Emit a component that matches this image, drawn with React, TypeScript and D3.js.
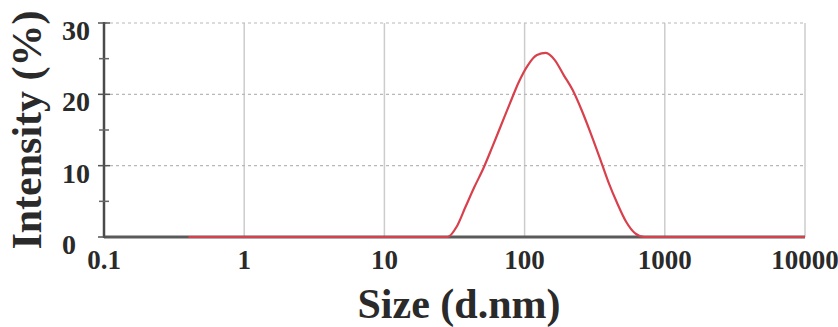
import React from 'react'
import * as d3 from 'd3'

const [W, H] = [838, 327]
const margin = { left: 104, right: 33, top: 23, bottom: 90 }

// size bins (d.nm) and intensity (%)
const sizes = [0.4, 0.4632, 0.5365, 0.6213, 0.7195, 0.8332, 0.9649, 1.117, 1.294, 1.499, 1.736, 2.01, 2.328,
  2.696, 3.122, 3.615, 4.187, 4.849, 5.615, 6.503, 7.531, 8.721, 10.1, 11.7, 13.54, 15.69, 18.17, 21.04, 24.36,
  28.21, 32.67, 37.84, 43.82, 50.75, 58.77, 68.06, 78.82, 91.28, 105.7, 122.4, 141.8, 164.2, 190.1, 220.2, 255.0,
  295.3, 342.0, 396.1, 458.7, 531.2, 615.1, 712.4, 825.0, 955.4, 1106, 1281, 1484, 1718, 1990, 2305, 2669, 3091,
  3580, 4145, 4801, 5560, 6439, 7456, 8635, 10000]
const intensity = [0, 0, 0, 0, 0, 0, 0, 0, 0, 0, 0, 0, 0,
  0, 0, 0, 0, 0, 0, 0, 0, 0, 0, 0, 0, 0, 0, 0, 0,
  0, 1.4, 4.2, 7.0, 9.6, 12.6, 15.7, 18.8, 21.8, 24.1, 25.5, 25.8, 24.8, 22.7, 20.6, 17.8,
  14.6, 11.2, 7.7, 4.7, 2.1, 0.5, 0, 0, 0, 0, 0, 0, 0, 0, 0, 0, 0,
  0, 0, 0, 0, 0, 0, 0, 0]

const xTicks = [0.1, 1, 10, 100, 1000, 10000]
const xTickLabels = ['0.1', '1', '10', '100', '1000', '10000']
const yTicks = [0, 10, 20, 30]
const yMinor = [5, 15, 25]

const font = '"Liberation Serif", "Times New Roman", serif'

export default function App() {
  const x = d3.scaleLog().domain([0.1, 10000]).range([margin.left, W - margin.right])
  const y = d3.scaleLinear().domain([0, 30]).range([H - margin.bottom, margin.top])
  const line = d3.line<number>()
    .x((_, i) => x(sizes[i]))
    .y(d => y(d))
    .curve(d3.curveMonotoneX)
  const path = line(intensity) || ''

  return (
    <svg width={W} height={H} style={{ position: 'absolute', left: 0, top: 0, background: '#fff' }}>
      {/* vertical grid */}
      {xTicks.slice(1).map(t => (
        <line key={'vg' + t} x1={x(t)} x2={x(t)} y1={y(30)} y2={y(0)} stroke="#cccccc" strokeWidth={1.5} />
      ))}
      {/* horizontal grid */}
      {yTicks.slice(1).map(t => (
        <line key={'hg' + t} x1={x(0.1)} x2={x(10000)} y1={y(t)} y2={y(t)} stroke="#b8b8b8" strokeWidth={1.2} strokeDasharray="3,3" />
      ))}
      {/* axes */}
      <line x1={x(0.1)} x2={x(10000)} y1={y(0)} y2={y(0)} stroke="#5a5a5a" strokeWidth={3} />
      <line x1={x(0.1)} x2={x(0.1)} y1={y(30) - 1} y2={y(0) + 1} stroke="#4a4a4a" strokeWidth={2.5} />
      {yTicks.map(t => (
        <line key={'yt' + t} x1={x(0.1) - 6} x2={x(0.1) + 6} y1={y(t)} y2={y(t)} stroke="#555" strokeWidth={1.5} />
      ))}
      {yMinor.map(t => (
        <line key={'ym' + t} x1={x(0.1) - 5} x2={x(0.1) + 5} y1={y(t)} y2={y(t)} stroke="#666" strokeWidth={1.5} />
      ))}
      {/* data */}
      <path d={path} fill="none" stroke="#d8404c" strokeWidth={2.2} strokeLinejoin="round" />
      {/* tick labels */}
      {xTicks.map((t, i) => (
        <text key={'xl' + t} x={x(t)} y={269} textAnchor="middle" fontFamily={font} fontWeight="bold" fontSize={27} fill="#2a2a2a">
          {xTickLabels[i]}
        </text>
      ))}
      {yTicks.map(t => (
        <text key={'yl' + t} x={62} y={y(t) + 17} textAnchor="start" fontFamily={font} fontWeight="bold" fontSize={28} fill="#2a2a2a">
          {t}
        </text>
      ))}
      {/* axis titles */}
      <text x={459} y={318} textAnchor="middle" fontFamily={font} fontWeight="bold" fontSize={42} fill="#2a2a2a">
        Size (d.nm)
      </text>
      <text transform="translate(41,130) rotate(-90)" textAnchor="middle" fontFamily={font} fontWeight="bold" fontSize={42} fill="#2a2a2a">
        Intensity (%)
      </text>
    </svg>
  )
}
